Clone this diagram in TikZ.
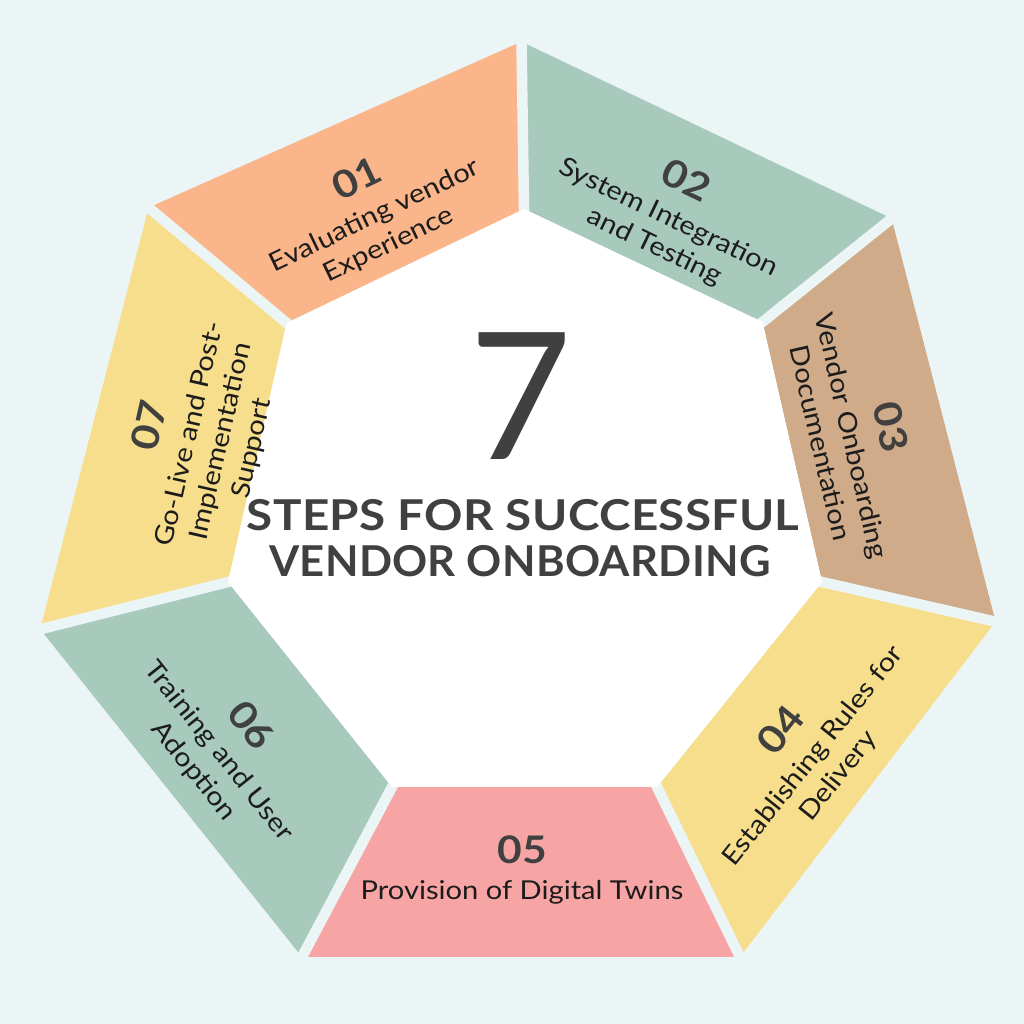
\documentclass[tikz,border=0pt]{standalone}
\usepackage{fontspec}
\setmainfont{Lato}[FakeStretch=1.12]
\newfontfamily\headfont{Lato}[FakeStretch=1.12, LetterSpace=0.8]
\newfontfamily\sevenfont{Lato}
\usetikzlibrary{calc}
\definecolor{bgc}{HTML}{EBF5F5}
\definecolor{cOrange}{HTML}{FAB68A}
\definecolor{cGreen}{HTML}{A8CABD}
\definecolor{cTan}{HTML}{D0AB8A}
\definecolor{cYellow}{HTML}{F7DE8C}
\definecolor{cPink}{HTML}{F7A4A4}
\definecolor{numc}{HTML}{404040}
\definecolor{labc}{HTML}{1C1C1C}
\tikzset{
  num/.style={font=\fontsize{38}{38}\selectfont\bfseries, text=numc, inner sep=0pt, anchor=center},
  lab/.style={font=\fontsize{26}{30}\selectfont, text=labc, inner sep=0pt, anchor=base},
  gapline/.style={draw=bgc, line width=10.5pt},
  headline/.style={font=\headfont\bfseries\fontsize{42.5}{42.5}\selectfont, text=numc, inner sep=0pt, anchor=base}
}
\begin{document}
\begin{tikzpicture}[x=1pt,y=1pt]
\useasboundingbox (0,0) rectangle (1024,1024);
\fill[bgc] (0,0) rectangle (1024,1024);
% outer vertices
\coordinate (V0) at (521.5,982.3);
\coordinate (V1) at (891.6,805.5);
\coordinate (V2) at (995.6,402.3);
\coordinate (V3) at (740,67);
\coordinate (V4) at (302,67);
\coordinate (V5) at (40.2,394.7);
\coordinate (V6) at (148.6,816.4);
% inner vertices
\coordinate (I0) at (524,815);
\coordinate (I1) at (762.5,702);
\coordinate (I2) at (822,442);
\coordinate (I3) at (657,237);
\coordinate (I4) at (392,237);
\coordinate (I5) at (228,442);
\coordinate (I6) at (286.6,701);
% segments
\fill[cOrange] (V6) -- (V0) -- (I0) -- (I6) -- cycle;
\fill[cGreen]  (V0) -- (V1) -- (I1) -- (I0) -- cycle;
\fill[cTan]    (V1) -- (V2) -- (I2) -- (I1) -- cycle;
\fill[cYellow] (V2) -- (V3) -- (I3) -- (I2) -- cycle;
\fill[cPink]   (V3) -- (V4) -- (I4) -- (I3) -- cycle;
\fill[cGreen]  (V4) -- (V5) -- (I5) -- (I4) -- cycle;
\fill[cYellow] (V5) -- (V6) -- (I6) -- (I5) -- cycle;
% gaps
\foreach \k in {0,...,6}{
  \draw[gapline] ($(I\k)!-12pt!(V\k)$) -- ($(V\k)!-12pt!(I\k)$);
}
% white centre
\fill[white] (I0) -- (I1) -- (I2) -- (I3) -- (I4) -- (I5) -- (I6) -- cycle;
% centre texts
\node[font=\sevenfont\fontsize{177}{177}\selectfont, text=numc, inner sep=0pt, anchor=base] (seven) at (521,564) {7};
\node[headline] (head1) at (523,493) {STEPS FOR SUCCESSFUL};
\node[headline] (head2) at (520,447) {\scalebox{0.915}[1]{VENDOR ONBOARDING}};
% 01
\begin{scope}[shift={(356.7,845.7)}, rotate=25.7, transform shape]
  \node[num] (n1) at (0,0) {01};
  \node[lab] (l1a) at (0,-49.6) {Evaluating vendor};
  \node[lab] (l1b) at (0,-81.6) {Experience};
\end{scope}
% 02
\begin{scope}[shift={(686.7,844)}, rotate=-25.7, transform shape]
  \node[num] (n2) at (0,0) {02};
  \node[lab] (l2a) at (0,-49.6) {System Integration};
  \node[lab] (l2b) at (0,-81.6) {and Testing};
\end{scope}
% 03
\begin{scope}[shift={(891,597)}, rotate=-77.14, transform shape]
  \node[num] (n3) at (0,0) {03};
  \node[lab] (l3a) at (0,-49.6) {Vendor Onboarding};
  \node[lab] (l3b) at (0,-81.6) {Documentation};
\end{scope}
% 04
\begin{scope}[shift={(780.5,294)}, rotate=51.43, transform shape]
  \node[num] (n4) at (0,0) {04};
  \node[lab] (l4a) at (0,-49.6) {Establishing Rules for};
  \node[lab] (l4b) at (0,-81.6) {Delivery};
\end{scope}
% 05
\begin{scope}[shift={(522,174.3)}]
  \node[num] (n5) at (0,0) {05};
  \node[lab] (l5a) at (0,-49.6) {Provision of Digital Twins};
\end{scope}
% 06
\begin{scope}[shift={(251.6,299)}, rotate=-51.43, transform shape]
  \node[num] (n6) at (0,0) {06};
  \node[lab] (l6a) at (0,-49.6) {Training and User};
  \node[lab] (l6b) at (0,-81.6) {Adoption};
\end{scope}
% 07
\begin{scope}[shift={(149,599)}, rotate=77.14, transform shape]
  \node[num] (n7) at (0,0) {07};
  \node[lab] (l7a) at (0,-49.6) {Go-Live and Post-};
  \node[lab] (l7b) at (0,-81.6) {Implementation};
  \node[lab] (l7c) at (0,-113.6) {Support};
\end{scope}
\end{tikzpicture}
\end{document}
